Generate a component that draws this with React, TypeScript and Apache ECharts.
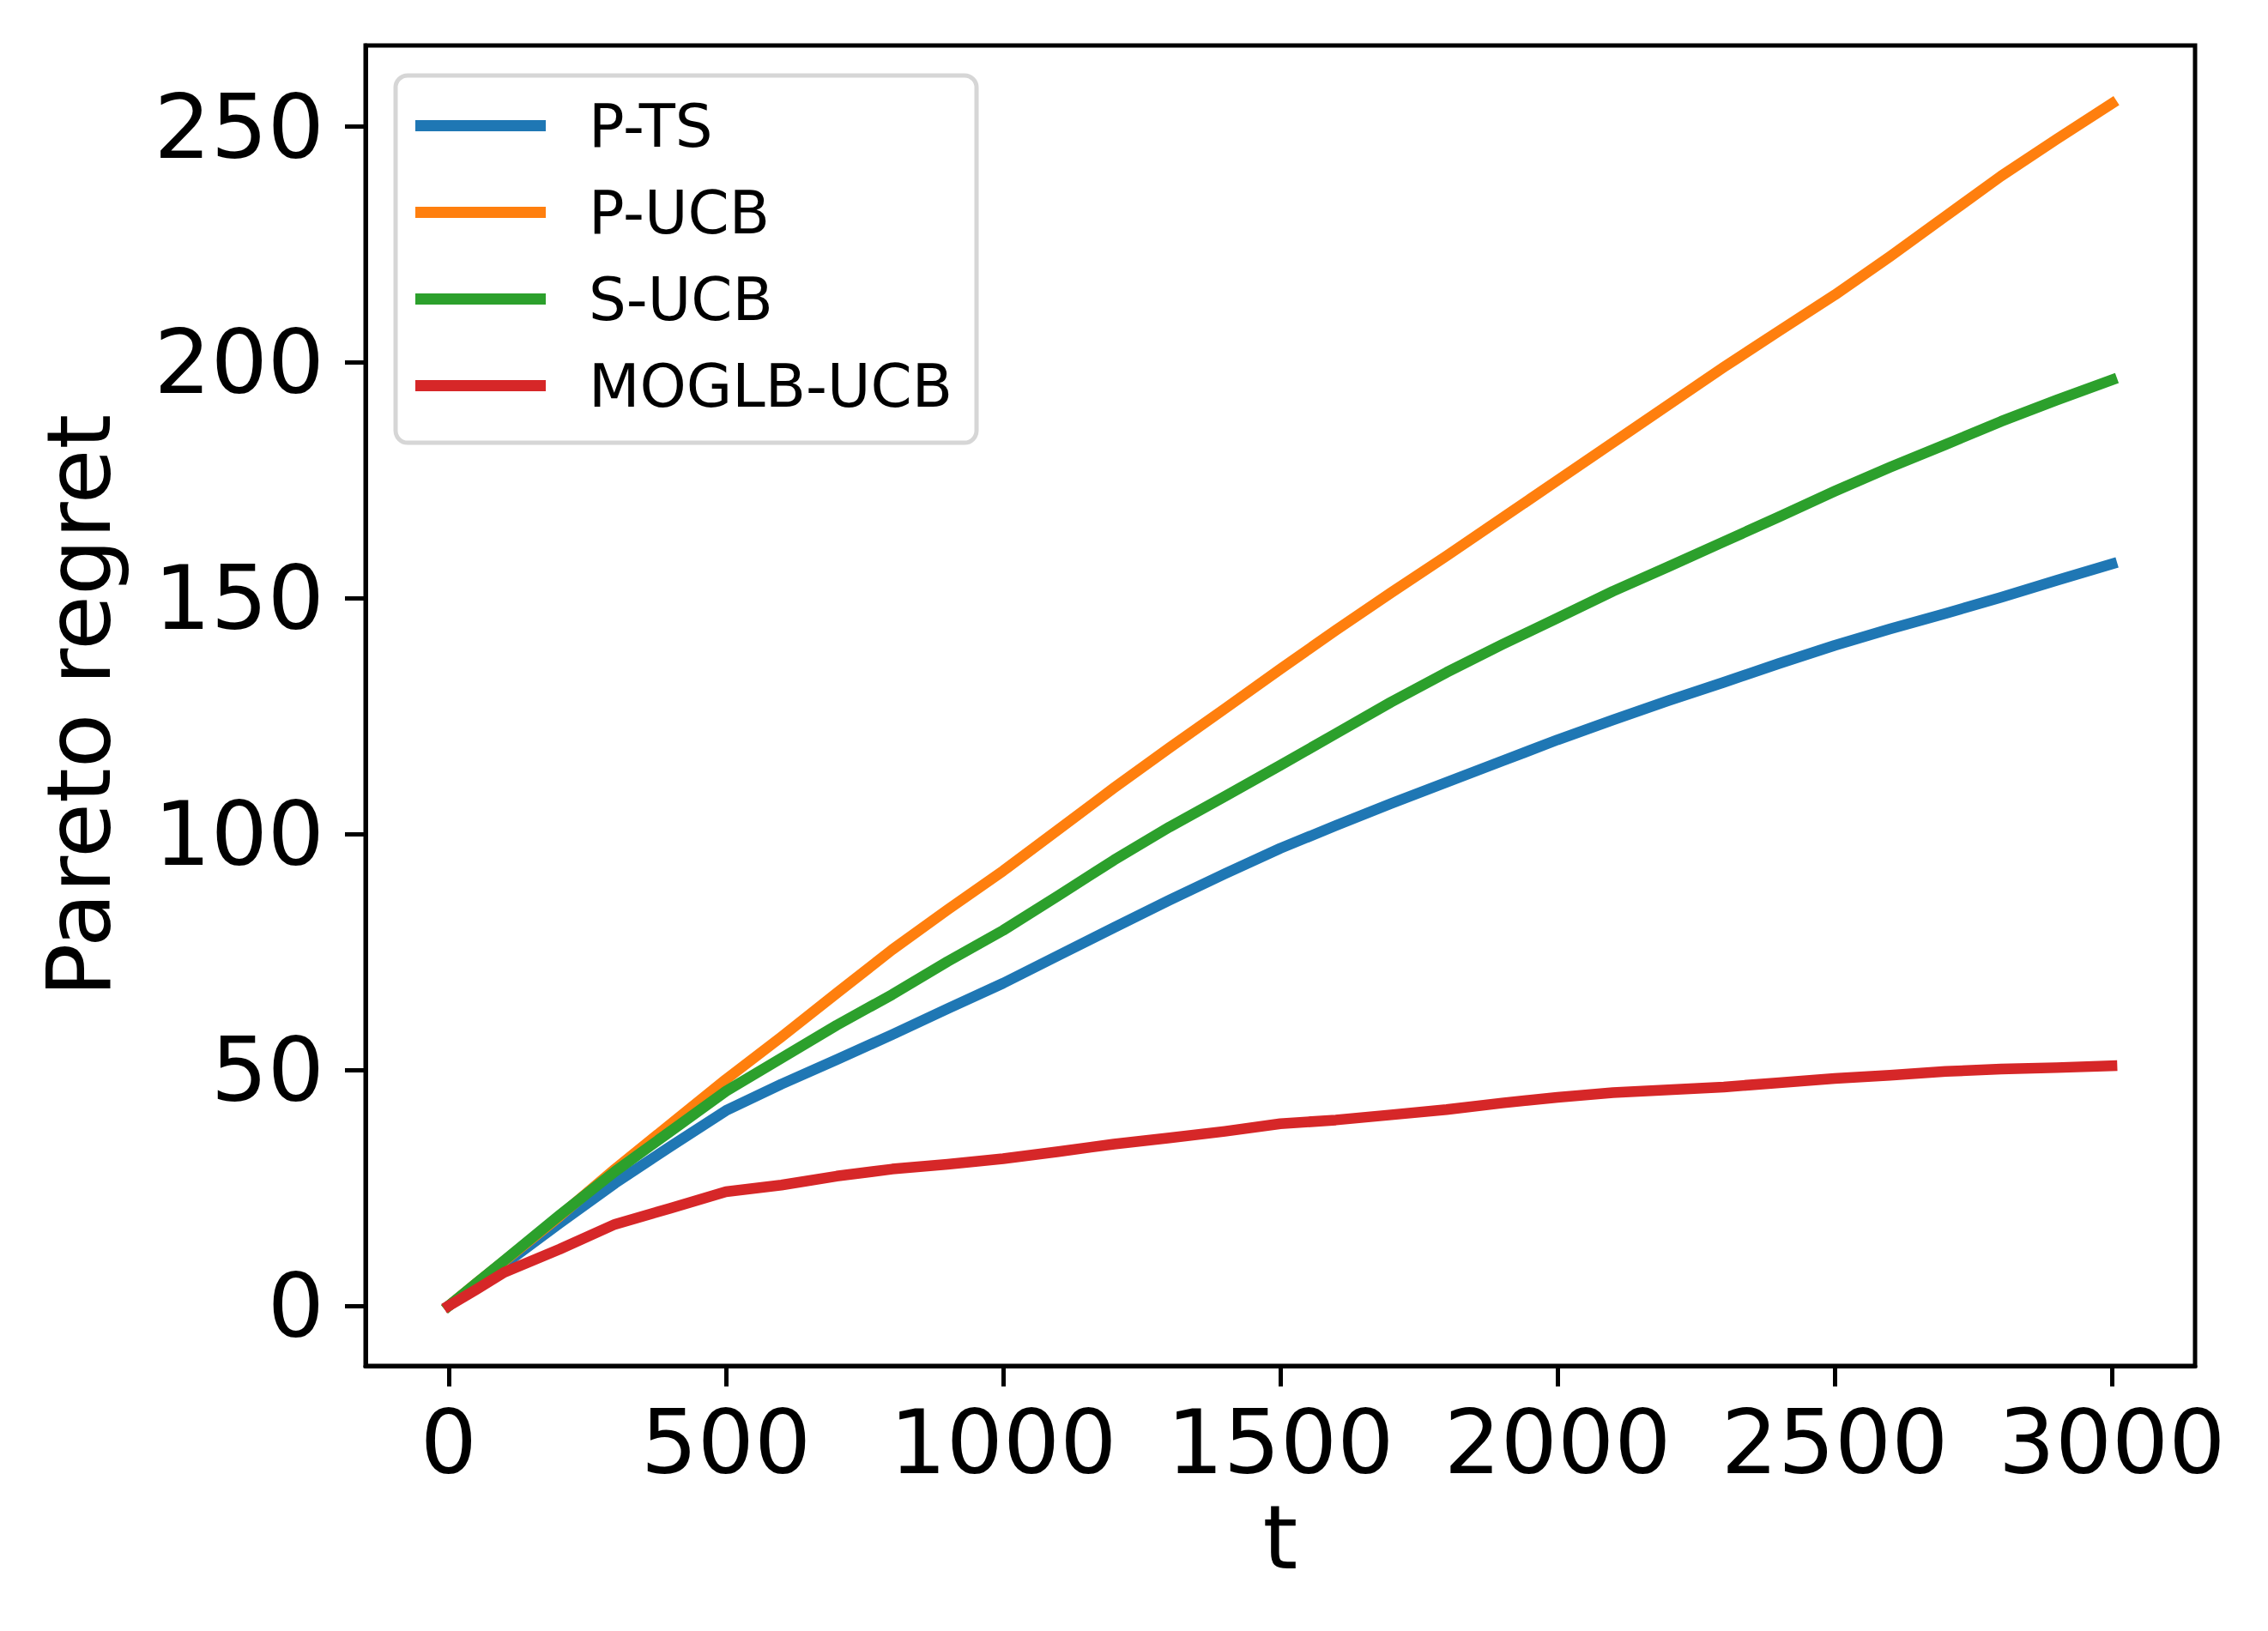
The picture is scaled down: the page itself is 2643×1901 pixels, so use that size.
import React, { useEffect, useRef } from 'react';
import * as echarts from 'echarts';

const FONT = 'DejaVu Sans';

const T = [0, 50, 100, 200, 300, 400, 500, 600, 700, 800, 900, 1000, 1100, 1200, 1300, 1400, 1500, 1600, 1700, 1800, 1900, 2000, 2100, 2200, 2300, 2400, 2500, 2600, 2700, 2800, 2900, 3000];

const P_TS = [0, 4.5, 8.8, 17.5, 26, 33.8, 41.4, 47, 52.2, 57.5, 63, 68.4, 74.3, 80.2, 86, 91.6, 97, 101.8, 106.5, 111, 115.5, 120, 124.2, 128.3, 132.2, 136.2, 140, 143.5, 146.8, 150.2, 153.8, 157.3];
const P_UCB = [0, 4.8, 9.5, 19, 29, 38.5, 48, 57, 66.3, 75.5, 84, 92.2, 101, 109.8, 118.3, 126.6, 135, 143.2, 151.2, 159, 167, 175, 183, 191, 199, 206.7, 214.3, 222.5, 231, 239.5, 247.3, 254.9];
const S_UCB = [0, 4.8, 9.6, 19.2, 28.5, 37, 45.5, 52.5, 59.5, 66, 73, 79.6, 87, 94.5, 101.5, 108, 114.6, 121.3, 128, 134.3, 140.2, 145.8, 151.5, 156.7, 162, 167.3, 172.7, 177.8, 182.6, 187.5, 192, 196.3];
const MOGLB_UCB = [0, 3.5, 7.1, 12, 17.3, 20.7, 24.2, 25.6, 27.5, 29, 30, 31.2, 32.7, 34.3, 35.6, 37, 38.6, 39.4, 40.5, 41.6, 43, 44.2, 45.2, 45.8, 46.4, 47.3, 48.2, 48.9, 49.7, 50.2, 50.5, 50.9];

const NAMES = ['P-TS', 'P-UCB', 'S-UCB', 'MOGLB-UCB'];
const COLORS = ['#1f77b4', '#ff7f0e', '#2ca02c', '#d62728'];
const X_TICKS = [0, 500, 1000, 1500, 2000, 2500, 3000];
const Y_TICKS = [0, 50, 100, 150, 200, 250];

export default function App() {
  const ref = useRef<HTMLDivElement>(null);
  useEffect(() => {
    document.body.style.margin = '0';
    const chart = echarts.init(ref.current!, null, { renderer: 'svg', width: 2643, height: 1901 });
    const all = [P_TS, P_UCB, S_UCB, MOGLB_UCB];
    chart.setOption({
      animation: false,
      backgroundColor: '#ffffff',
      textStyle: { fontFamily: FONT },
      grid: {
        left: 426, top: 53, width: 2132, height: 1539,
        show: true, borderColor: '#000', borderWidth: 5, backgroundColor: 'transparent',
      },
      xAxis: {
        type: 'value', min: -150, max: 3150,
        name: 't', nameLocation: 'middle', nameGap: 148,
        nameTextStyle: { fontSize: 104, color: '#000', fontFamily: FONT },
        axisLine: { show: true, onZero: false, lineStyle: { color: '#000', width: 5 } },
        axisTick: { show: true, length: 24, lineStyle: { color: '#000', width: 5 }, customValues: X_TICKS },
        axisLabel: {
          customValues: X_TICKS, fontSize: 104, color: '#000', margin: 37, fontFamily: FONT,
          formatter: (v: number) => String(v),
        },
        splitLine: { show: false },
      },
      yAxis: {
        type: 'value', min: -12.73, max: 267.2,
        name: 'Pareto regret', nameLocation: 'middle', nameGap: 282, nameRotate: 90,
        nameTextStyle: { fontSize: 104, color: '#000', fontFamily: FONT },
        axisLine: { show: true, onZero: false, lineStyle: { color: '#000', width: 5 } },
        axisTick: { show: true, length: 24, lineStyle: { color: '#000', width: 5 }, customValues: Y_TICKS },
        axisLabel: {
          customValues: Y_TICKS, fontSize: 104, color: '#000', margin: 48, fontFamily: FONT,
          formatter: (v: number) => String(v),
        },
        splitLine: { show: false },
      },
      legend: {
        orient: 'vertical', left: 479, top: 106.5,
        itemWidth: 152, itemHeight: 13, itemGap: 31, icon: 'rect',
        textStyle: { fontSize: 69, lineHeight: 70, color: '#000', fontFamily: FONT, padding: [0, 0, 0, 45] },
        data: NAMES,
      },
      graphic: [{
        type: 'rect', z: 3,
        shape: { x: 461, y: 88, width: 677, height: 428, r: 14 },
        style: { fill: 'rgba(255,255,255,0.8)', stroke: '#d6d6d6', lineWidth: 5 },
      }],
      series: NAMES.map((n, i) => ({
        name: n, type: 'line', showSymbol: false, symbol: 'none',
        color: COLORS[i],
        itemStyle: { color: COLORS[i] },
        lineStyle: { color: COLORS[i], width: 12.5, cap: 'square', join: 'round' },
        data: T.map((t, k) => [t, all[i][k]]),
        z: 2 + i * 0.01,
      })),
    });
    return () => chart.dispose();
  }, []);
  return <div ref={ref} style={{ width: 2643, height: 1901, position: 'absolute', left: 0, top: 0 }} />;
}
